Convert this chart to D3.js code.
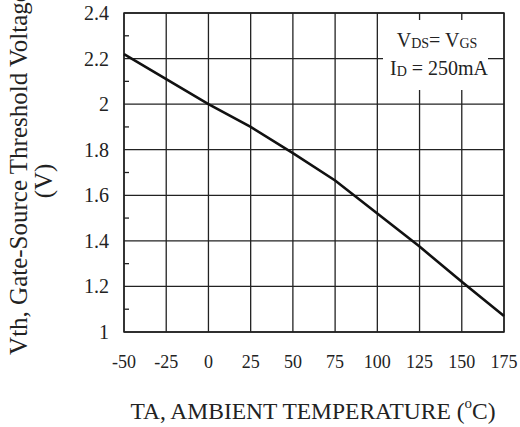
<!DOCTYPE html>
<html>
<head>
<meta charset="utf-8">
<script src="https://cdn.jsdelivr.net/npm/d3@7"></script>
<style>
  body { margin: 0; background: #fff; }
  svg { display: block; }
  text { font-family: "Liberation Serif", "Times New Roman", serif; fill: #222; }
</style>
</head>
<body>
<svg id="chart" width="520" height="427"></svg>
<script>
// data
const temps = [-50, -25, 0, 25, 50, 75, 100, 125, 150, 175];
const vth   = [2.22, 2.11, 2.0, 1.90, 1.785, 1.665, 1.52, 1.375, 1.22, 1.07];
const xTicks = [-50, -25, 0, 25, 50, 75, 100, 125, 150, 175];
const yTicks = [1, 1.2, 1.4, 1.6, 1.8, 2, 2.2, 2.4];
const yMinor = [1.1, 1.3, 1.5, 1.7, 1.9, 2.1, 2.3];

const svg = d3.select("#chart");
const plotL = 124, plotR = 504, plotT = 13, plotB = 332;

const x = d3.scaleLinear().domain([-50, 175]).range([plotL, plotR]);
const y = d3.scaleLinear().domain([1, 2.4]).range([plotB, plotT]);

// grid
svg.append("g").selectAll("line").data(xTicks).join("line")
  .attr("x1", d => x(d)).attr("x2", d => x(d))
  .attr("y1", plotT).attr("y2", plotB)
  .attr("stroke", "#222").attr("stroke-width", 1.3);
svg.append("g").selectAll("line").data(yTicks).join("line")
  .attr("x1", plotL).attr("x2", plotR)
  .attr("y1", d => y(d)).attr("y2", d => y(d))
  .attr("stroke", "#222").attr("stroke-width", 1.3);

// minor ticks on left axis
svg.append("g").selectAll("line").data(yMinor).join("line")
  .attr("x1", plotL).attr("x2", plotL + 5)
  .attr("y1", d => y(d)).attr("y2", d => y(d))
  .attr("stroke", "#222").attr("stroke-width", 1.3);

// frame
svg.append("rect").attr("x", plotL).attr("y", plotT)
  .attr("width", plotR - plotL).attr("height", plotB - plotT)
  .attr("fill", "none").attr("stroke", "#222").attr("stroke-width", 1.5);

// curve
const line = d3.line().x((d, i) => x(temps[i])).y(d => y(d));
svg.append("path").datum(vth).attr("d", line)
  .attr("fill", "none").attr("stroke", "#111").attr("stroke-width", 2.6);

// condition label box
svg.append("rect").attr("x", 383).attr("y", 20).attr("width", 105).attr("height", 70)
  .attr("fill", "#fff");
const t1 = svg.append("text").attr("x", 437).attr("y", 47).attr("text-anchor", "middle")
  .style("font-size", "20px");
t1.append("tspan").text("V");
t1.append("tspan").text("DS").style("font-size", "14px").attr("dy", 1);
t1.append("tspan").text("= V").attr("dy", -1);
t1.append("tspan").text("GS").style("font-size", "14px").attr("dy", 1);
const t2 = svg.append("text").attr("x", 439).attr("y", 75).attr("text-anchor", "middle")
  .style("font-size", "20px");
t2.append("tspan").text("I");
t2.append("tspan").text("D").style("font-size", "14px").attr("dy", 1);
t2.append("tspan").text(" = 250mA").attr("dy", -1);

// tick labels
svg.append("g").selectAll("text").data(yTicks).join("text")
  .attr("x", 109).attr("y", d => y(d)).attr("dy", "0.35em")
  .attr("text-anchor", "end").style("font-size", "20px")
  .text(d => d3.format("~g")(d));
svg.append("g").selectAll("text").data(xTicks).join("text")
  .attr("x", d => x(d)).attr("y", 362).attr("dy", "0.35em")
  .attr("text-anchor", "middle").style("font-size", "18px")
  .text(d => d);

// axis titles
const xt = svg.append("text").attr("x", 313).attr("y", 419).attr("text-anchor", "middle")
  .style("font-size", "23.5px");
xt.append("tspan").text("TA, AMBIENT TEMPERATURE (");
xt.append("tspan").text("o").style("font-size", "15px").attr("dy", -11);
xt.append("tspan").text("C)").attr("dy", 11);

svg.append("text").attr("transform", "translate(27,173) rotate(-90)")
  .attr("text-anchor", "middle").style("font-size", "25px")
  .text("Vth, Gate-Source Threshold Voltage");
svg.append("text").attr("transform", "translate(52,181) rotate(-90)")
  .attr("text-anchor", "middle").style("font-size", "25px")
  .text("(V)");
</script>
</body>
</html>
